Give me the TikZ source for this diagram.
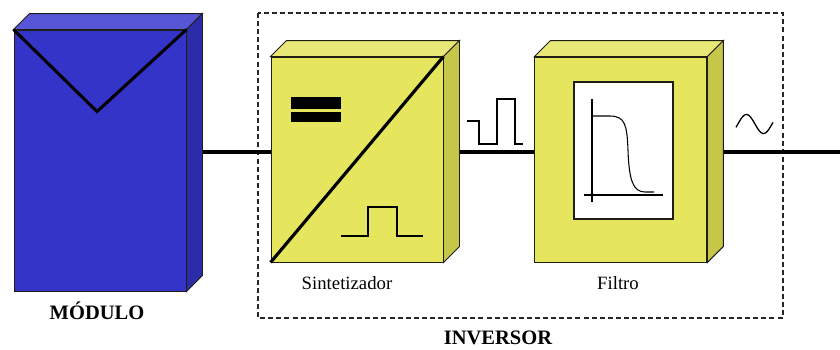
\documentclass[tikz,border=0pt]{standalone}
\usepackage{fontspec}
\setmainfont{Liberation Serif}
\usetikzlibrary{positioning, calc, backgrounds}
\definecolor{pvfront}{RGB}{52,52,200}
\definecolor{pvtop}{RGB}{86,86,214}
\definecolor{pvside}{RGB}{44,44,168}
\definecolor{stfront}{RGB}{230,230,94}
\definecolor{sttop}{RGB}{232,232,118}
\definecolor{stside}{RGB}{198,198,72}
\definecolor{edge}{RGB}{30,30,20}

\begin{document}
\begin{tikzpicture}[
    x=0.3mm, y=-0.3mm,
    face/.style={rectangle, draw=edge, line width=0.8pt, inner sep=0pt},
    pvface/.style={face, fill=pvfront, minimum width=51.6mm, minimum height=78.3mm},
    stage/.style={face, fill=stfront, minimum width=51.6mm, minimum height=61.5mm},
    wire/.style={line width=3.4pt},
    frame/.style={draw=black!85, line width=0.9pt, dash pattern=on 4.3pt off 2.6pt},
    title/.style={font=\fontsize{17.5}{20}\selectfont\bfseries},
    caption/.style={font=\fontsize{16}{18}\selectfont},
    sig/.style={line width=2.2pt, line join=miter},
]
\useasboundingbox (0,0) rectangle (840,349);

% PV module
\node[pvface] (pv) at (100,160.5) {};
\filldraw[fill=pvtop, draw=edge, line width=0.8pt] (pv.north west) -- ++(16,-16) -- ($(pv.north east)+(16,-16)$) -- (pv.north east) -- cycle;
\filldraw[fill=pvside, draw=edge, line width=0.8pt] (pv.north east) -- ++(16,-16) -- ($(pv.south east)+(16,-16)$) -- (pv.south east) -- cycle;
\draw[line width=2.6pt, line join=miter] (pv.north west) -- ($(pv.north)+(-3,82)$) -- (pv.north east);
\node[title] (pvlbl) at (97,311) {MÓDULO};

% inverter stages
\node[stage] (syn) at (357,159.5) {};
\node[stage, right=27.3mm of syn] (filt) {};
\foreach \b in {syn,filt} {
    \filldraw[fill=sttop, draw=edge, line width=0.8pt] (\b.north west) -- ++(16,-16) -- ($(\b.north east)+(16,-16)$) -- (\b.north east) -- cycle;
    \filldraw[fill=stside, draw=edge, line width=0.8pt] (\b.north east) -- ++(16,-16) -- ($(\b.south east)+(16,-16)$) -- (\b.south east) -- cycle;
}

% synthesizer symbol
\draw[line width=2.7pt] (syn.south west) -- (syn.north east);
\fill (291,97) rectangle (341,109);
\fill (291,112) rectangle (341,122);
\draw[sig] (341,236) -- (368,236) -- (368,207) -- (397,207) -- (397,236) -- (423,236);
\node[caption] (synlbl) at (347,283) {Sintetizador};

% filter symbol
\node[rectangle, draw=edge, fill=white, line width=1.1pt, minimum width=29.7mm, minimum height=41.1mm] (scr) at (623.5,150.5) {};
\draw[line width=0.9pt] (592,99) -- (592,202);
\draw[line width=0.9pt] (584,195) -- (663,195);
\draw[line width=0.9pt] (592,116) -- (610,116) .. controls (625,116) and (627,125) .. (628,150) .. controls (629,180) and (633,192) .. (645,192) -- (654,192);
\node[caption] (filtlbl) at (618,283) {Filtro};

% waveforms on the lines
\draw[line width=1.2pt, line join=miter] (467,121) -- (479,121) -- (479,144) -- (497,144) -- (497,99) -- (515,99) -- (515,144) -- (523,144);
\draw[line width=1.1pt] plot[domain=-20:370, samples=40, smooth] ({736+(\x+20)/390*37}, {124-9.5*sin(\x)});

% wires and inverter frame
\coordinate (bus) at (0,152);
\coordinate (grid) at (840,152);
\begin{scope}[on background layer]
    \draw[frame] (258,13) rectangle (783,318);
    \draw[wire] (pv.east |- bus) -- (syn.west |- bus);
    \draw[wire] (syn.east |- bus) -- (filt.west |- bus);
    \draw[wire] (filt.east |- bus) -- (grid);
\end{scope}
\node[title] (invlbl) at (498,338) {INVERSOR};

\end{tikzpicture}
\end{document}
